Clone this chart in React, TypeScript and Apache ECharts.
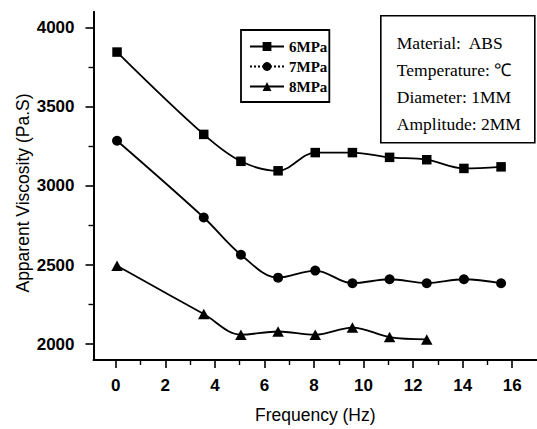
import React, { useEffect, useRef } from "react";
import * as echarts from "echarts";

// Frequency (Hz) at which each pressure level was measured
const frequency = [0.05, 3.55, 5.05, 6.55, 8.05, 9.55, 11.05, 12.55, 14.05, 15.55];
// Apparent viscosity (Pa.S) per pressure level
const viscosity6MPa = [3845, 3325, 3155, 3095, 3210, 3210, 3180, 3165, 3110, 3120];
const viscosity7MPa = [3285, 2800, 2565, 2420, 2465, 2385, 2410, 2385, 2410, 2385];
const viscosity8MPa = [2495, 2190, 2060, 2080, 2060, 2105, 2045, 2030];

const xMajorTicks = [0, 2, 4, 6, 8, 10, 12, 14, 16];
const xMinorTicks = [1, 3, 5, 7, 9, 11, 13, 15];
const yMajorTicks = [2000, 2500, 3000, 3500, 4000];
const yMinorTicks = [2250, 2750, 3250, 3750];

const yTitle = "Apparent Viscosity (Pa.S)";
const xTitle = "Frequency (Hz)";
const notes = ["Material:\u00a0 ABS", "Temperature: \u2103", "Diameter: 1MM", "Amplitude: 2MM"];

const INK = "#000";
const SANS = "'Liberation Sans', Arial, sans-serif";
const SERIF = "'Liberation Serif', 'Times New Roman', serif";

const pairs = (ys: number[]) => ys.map((y, i) => [frequency[i], y]);

export default function App() {
  const ref = useRef<HTMLDivElement>(null);

  useEffect(() => {
    if (!ref.current) return;
    const chart = echarts.init(ref.current, undefined, { renderer: "svg" });

    const tickLabel = {
      color: INK,
      fontFamily: SANS,
      fontWeight: "bold" as const,
      fontSize: 17,
      formatter: (v: number) => String(v),
    };
    const nameStyle = { color: INK, fontFamily: SANS, fontSize: 17.5 };

    const lineSeries = (name: string, ys: number[], symbol: string, size: any) => ({
      type: "line",
      name,
      data: pairs(ys),
      symbol,
      symbolSize: size,
      smooth: 0.35,
      xAxisIndex: 0,
      yAxisIndex: 0,
      lineStyle: { color: INK, width: 1.8 },
      itemStyle: { color: INK },
      emphasis: { disabled: true },
    });

    chart.setOption({
      animation: false,
      backgroundColor: "#fff",
      grid: { left: 93.5, top: 11.7, width: 444, height: 351.6 },
      legend: {
        orient: "vertical",
        left: 241,
        top: 30,
        borderColor: INK,
        borderWidth: 1.8,
        padding: [9, 2, 8, 8],
        itemGap: 5,
        itemWidth: 34,
        itemHeight: 11,
        textStyle: { color: INK, fontFamily: SERIF, fontWeight: "bold", fontSize: 15 },
        data: [
          { name: "6MPa" },
          { name: "7MPa", lineStyle: { type: "dotted" } },
          { name: "8MPa" },
        ],
      },
      xAxis: [
        {
          type: "value",
          min: -0.9,
          max: 17,
          position: "bottom",
          name: xTitle,
          nameLocation: "middle",
          nameGap: 46,
          nameTextStyle: nameStyle,
          axisLine: { onZero: false, lineStyle: { color: INK, width: 2 } },
          axisTick: { customValues: xMajorTicks, length: 8, lineStyle: { color: INK, width: 1.6 } },
          axisLabel: { customValues: xMajorTicks, margin: 17, ...tickLabel },
          splitLine: { show: false },
        },
        {
          type: "value",
          min: -0.9,
          max: 17,
          position: "bottom",
          axisLine: { show: false },
          axisTick: { customValues: xMinorTicks, length: 5, lineStyle: { color: INK, width: 1.4 } },
          axisLabel: { show: false },
          splitLine: { show: false },
        },
      ],
      yAxis: [
        {
          type: "value",
          min: 1900,
          max: 4100,
          position: "left",
          axisLine: { onZero: false, lineStyle: { color: INK, width: 2 } },
          axisTick: { customValues: yMajorTicks, length: 8, lineStyle: { color: INK, width: 1.6 } },
          axisLabel: { customValues: yMajorTicks, margin: 19, ...tickLabel },
          splitLine: { show: false },
        },
        {
          type: "value",
          min: 1900,
          max: 4100,
          position: "left",
          axisLine: { show: false, onZero: false },
          axisTick: { customValues: yMinorTicks, length: 5, lineStyle: { color: INK, width: 1.4 } },
          axisLabel: { show: false },
          splitLine: { show: false },
        },
      ],
      series: [
        lineSeries("6MPa", viscosity6MPa, "rect", 9.5),
        lineSeries("7MPa", viscosity7MPa, "circle", 10),
        lineSeries("8MPa", viscosity8MPa, "triangle", [11.5, 10.5]),
      ],
      graphic: [
        {
          type: "text",
          x: 23,
          y: 193,
          rotation: Math.PI / 2,
          style: {
            text: yTitle,
            fill: INK,
            font: `17.5px ${SANS}`,
            textAlign: "center",
            textVerticalAlign: "middle",
          },
        },
        {
          type: "group",
          left: 380,
          top: 15,
          children: [
            {
              type: "rect",
              shape: { x: 0, y: 0, width: 154, height: 127 },
              style: { fill: "#fff", stroke: INK, lineWidth: 1.6 },
            },
            ...notes.map((t, i) => ({
              type: "text",
              x: 16,
              y: 27.5 + i * 27,
              style: {
                text: t,
                fill: INK,
                font: `17.5px ${SERIF}`,
                textVerticalAlign: "middle",
                textAlign: "left",
              },
            })),
          ],
        },
      ],
    });

    return () => chart.dispose();
  }, []);

  return (
    <div
      ref={ref}
      style={{ position: "absolute", left: 0, top: 0, width: 537, height: 429 }}
    />
  );
}
